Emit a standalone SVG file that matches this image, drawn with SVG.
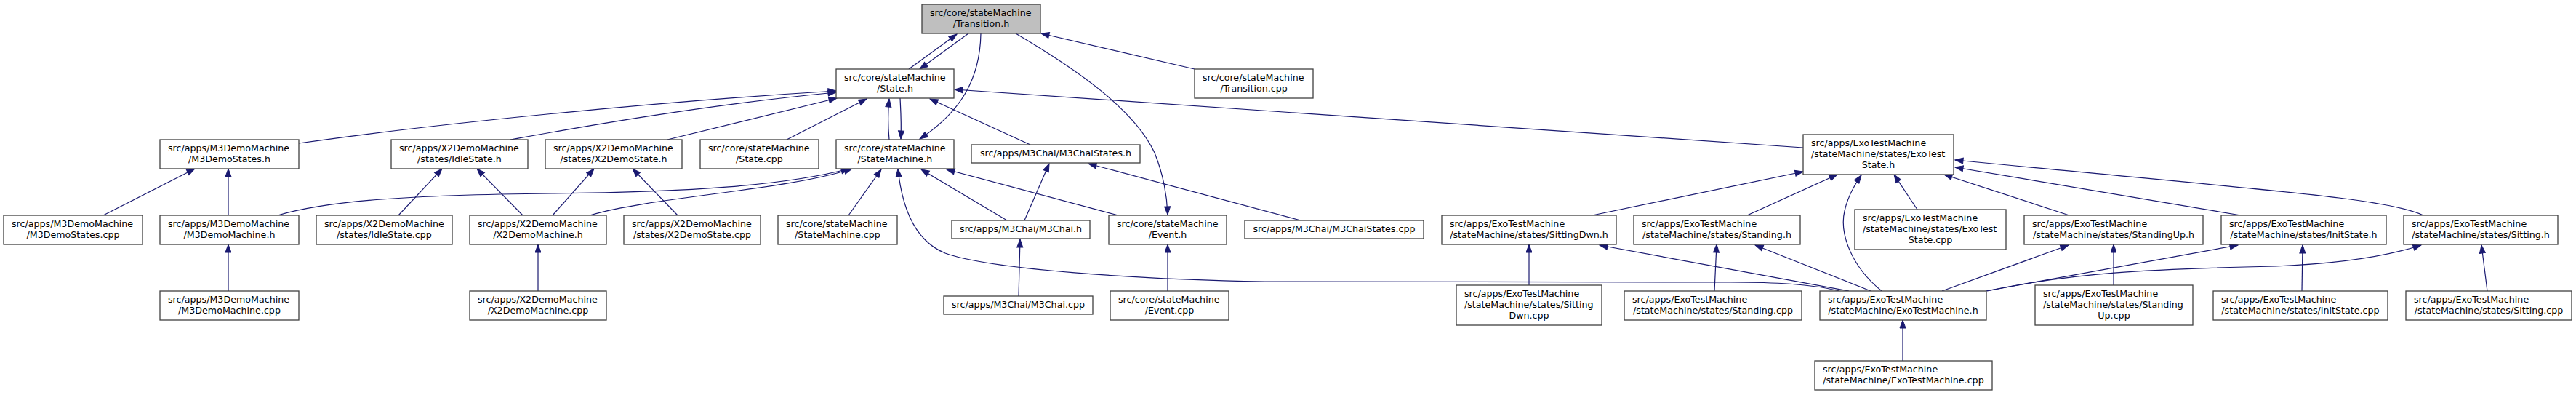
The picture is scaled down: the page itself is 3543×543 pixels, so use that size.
<svg xmlns="http://www.w3.org/2000/svg" width="3543" height="543" viewBox="0 0 3543 543">
<style>
.node rect{fill:#ffffff;stroke:#404040;stroke-width:1.3}
.node rect.root{fill:#bfbfbf}
.node text{font-family:"DejaVu Sans","Liberation Sans",sans-serif;font-size:12.67px;fill:#000000}
.node text.m{text-anchor:middle}
.edges path{fill:none;stroke:#191970;stroke-width:1.2;marker-end:url(#arr)}
</style>
<defs>
<marker id="arr" markerUnits="userSpaceOnUse" viewBox="-12 -5 12 10" refX="0" refY="0" markerWidth="12" markerHeight="10" orient="auto" overflow="visible">
<path d="M0,0 L-11,-4 L-11,4 Z" fill="#191970" stroke="#191970" stroke-width="1"/>
</marker>
</defs>
<rect x="0" y="0" width="3543" height="543" fill="#ffffff"/>
<g class="edges">
<path d="M1250,95 L1316,47"/>
<path d="M1332,46 L1265,95"/>
<path d="M1349,46 C1348,110 1320,155 1265,191"/>
<path d="M1397,46 C1480,95 1560,150 1588,210 C1600,240 1605,265 1606,295"/>
<path d="M1643,95 L1432,46"/>
<path d="M1223,192 C1221,170 1221,155 1223,136"/>
<path d="M1238,135 C1239,155 1240,170 1239,191"/>
<path d="M1417,199 L1279,136"/>
<path d="M2480,203 L1313,123"/>
<path d="M411,197 C600,170 900,140 1150,125"/>
<path d="M702,192 C780,178 960,145 1150,127"/>
<path d="M918,192 L1151,135"/>
<path d="M1082,192 L1192,136"/>
<path d="M142,296 L268,232"/>
<path d="M314,296 L314,232"/>
<path d="M314,400 L314,336"/>
<path d="M548,296 L608,232"/>
<path d="M719,296 L656,232"/>
<path d="M760,296 L817,232"/>
<path d="M932,296 L870,232"/>
<path d="M740,400 L740,336"/>
<path d="M382,296 C450,276 560,268 760,266 C950,264 1080,255 1168,232"/>
<path d="M811,296 C900,270 1080,262 1172,232"/>
<path d="M1167,296 L1212,233"/>
<path d="M2530,400 C2490,390 2440,388 2380,388 L1740,387 C1560,384 1360,370 1300,348 C1255,330 1240,280 1235,232"/>
<path d="M1385,303 L1267,233"/>
<path d="M1538,296 L1302,233"/>
<path d="M1409,303 L1443,225"/>
<path d="M1789,303 L1497,225"/>
<path d="M1401,407 L1403,329"/>
<path d="M1606,400 L1606,336"/>
<path d="M2190,296 L2480,236"/>
<path d="M2403,296 L2527,240"/>
<path d="M2588,400 C2545,365 2530,320 2537,290 C2541,272 2550,255 2560,241"/>
<path d="M2637,288 L2605,240"/>
<path d="M2846,296 L2674,240"/>
<path d="M3082,296 L2689,230"/>
<path d="M3333,296 C3280,272 3140,264 2689,220"/>
<path d="M2103,392 L2103,336"/>
<path d="M2358,400 L2361,336"/>
<path d="M2543,400 L2200,337"/>
<path d="M2573,400 L2414,337"/>
<path d="M2671,400 L2845,337"/>
<path d="M2907,392 L2907,336"/>
<path d="M2731,400 L3078,337"/>
<path d="M3166,400 L3167,337"/>
<path d="M2733,400 C2850,375 2950,370 3130,366 C3230,362 3290,350 3330,337"/>
<path d="M3421,400 L3413,337"/>
<path d="M2617,496 L2617,440"/>
</g>
<g id="n_transition_h" class="node"><rect class="root" x="1268" y="6" width="163" height="40"/><text x="1279" y="22.3">src/core/stateMachine</text><text class="m" x="1349.5" y="37.3">/Transition.h</text></g>
<g id="n_state_h" class="node"><rect x="1150" y="95" width="162" height="40"/><text x="1161" y="111.3">src/core/stateMachine</text><text class="m" x="1231" y="126.3">/State.h</text></g>
<g id="n_transition_cpp" class="node"><rect x="1643" y="95" width="163" height="40"/><text x="1654" y="111.3">src/core/stateMachine</text><text class="m" x="1724.5" y="126.3">/Transition.cpp</text></g>
<g id="n_m3demostates_h" class="node"><rect x="220" y="192" width="191" height="40"/><text x="231" y="208.3">src/apps/M3DemoMachine</text><text class="m" x="315.5" y="223.3">/M3DemoStates.h</text></g>
<g id="n_idlestate_h" class="node"><rect x="538" y="192" width="188" height="40"/><text x="549" y="208.3">src/apps/X2DemoMachine</text><text class="m" x="632" y="223.3">/states/IdleState.h</text></g>
<g id="n_x2demostate_h" class="node"><rect x="750" y="192" width="188" height="40"/><text x="761" y="208.3">src/apps/X2DemoMachine</text><text class="m" x="844" y="223.3">/states/X2DemoState.h</text></g>
<g id="n_state_cpp" class="node"><rect x="963" y="192" width="163" height="40"/><text x="974" y="208.3">src/core/stateMachine</text><text class="m" x="1044.5" y="223.3">/State.cpp</text></g>
<g id="n_statemachine_h" class="node"><rect x="1150" y="192" width="162" height="40"/><text x="1161" y="208.3">src/core/stateMachine</text><text class="m" x="1231" y="223.3">/StateMachine.h</text></g>
<g id="n_m3chaistates_h" class="node"><rect x="1336" y="199" width="232" height="25"/><text class="m" x="1452" y="215.3">src/apps/M3Chai/M3ChaiStates.h</text></g>
<g id="n_exoteststate_h" class="node"><rect x="2480" y="185" width="207" height="55"/><text x="2491" y="201.3">src/apps/ExoTestMachine</text><text x="2491" y="216.3">/stateMachine/states/ExoTest</text><text class="m" x="2583.5" y="231.3">State.h</text></g>
<g id="n_m3demostates_cpp" class="node"><rect x="5" y="296" width="191" height="40"/><text x="16" y="312.3">src/apps/M3DemoMachine</text><text class="m" x="100.5" y="327.3">/M3DemoStates.cpp</text></g>
<g id="n_m3demomachine_h" class="node"><rect x="220" y="296" width="191" height="40"/><text x="231" y="312.3">src/apps/M3DemoMachine</text><text class="m" x="315.5" y="327.3">/M3DemoMachine.h</text></g>
<g id="n_idlestate_cpp" class="node"><rect x="435" y="296" width="187" height="40"/><text x="446" y="312.3">src/apps/X2DemoMachine</text><text class="m" x="528.5" y="327.3">/states/IdleState.cpp</text></g>
<g id="n_x2demomachine_h" class="node"><rect x="646" y="296" width="188" height="40"/><text x="657" y="312.3">src/apps/X2DemoMachine</text><text class="m" x="740" y="327.3">/X2DemoMachine.h</text></g>
<g id="n_x2demostate_cpp" class="node"><rect x="858" y="296" width="188" height="40"/><text x="869" y="312.3">src/apps/X2DemoMachine</text><text class="m" x="952" y="327.3">/states/X2DemoState.cpp</text></g>
<g id="n_statemachine_cpp" class="node"><rect x="1070" y="296" width="164" height="40"/><text x="1081" y="312.3">src/core/stateMachine</text><text class="m" x="1152" y="327.3">/StateMachine.cpp</text></g>
<g id="n_m3chai_h" class="node"><rect x="1309" y="303" width="190" height="25"/><text class="m" x="1404" y="319.3">src/apps/M3Chai/M3Chai.h</text></g>
<g id="n_event_h" class="node"><rect x="1525" y="296" width="162" height="40"/><text x="1536" y="312.3">src/core/stateMachine</text><text class="m" x="1606" y="327.3">/Event.h</text></g>
<g id="n_m3chaistates_cpp" class="node"><rect x="1712" y="303" width="246" height="25"/><text class="m" x="1835" y="319.3">src/apps/M3Chai/M3ChaiStates.cpp</text></g>
<g id="n_sittingdwn_h" class="node"><rect x="1983" y="296" width="240" height="40"/><text x="1994" y="312.3">src/apps/ExoTestMachine</text><text class="m" x="2103" y="327.3">/stateMachine/states/SittingDwn.h</text></g>
<g id="n_standing_h" class="node"><rect x="2247" y="296" width="229" height="40"/><text x="2258" y="312.3">src/apps/ExoTestMachine</text><text class="m" x="2361.5" y="327.3">/stateMachine/states/Standing.h</text></g>
<g id="n_exoteststate_cpp" class="node"><rect x="2551" y="288" width="208" height="55"/><text x="2562" y="304.3">src/apps/ExoTestMachine</text><text x="2562" y="319.3">/stateMachine/states/ExoTest</text><text class="m" x="2655" y="334.3">State.cpp</text></g>
<g id="n_standingup_h" class="node"><rect x="2784" y="296" width="246" height="40"/><text x="2795" y="312.3">src/apps/ExoTestMachine</text><text class="m" x="2907" y="327.3">/stateMachine/states/StandingUp.h</text></g>
<g id="n_initstate_h" class="node"><rect x="3055" y="296" width="227" height="40"/><text x="3066" y="312.3">src/apps/ExoTestMachine</text><text class="m" x="3168.5" y="327.3">/stateMachine/states/InitState.h</text></g>
<g id="n_sitting_h" class="node"><rect x="3306" y="296" width="212" height="40"/><text x="3317" y="312.3">src/apps/ExoTestMachine</text><text class="m" x="3412" y="327.3">/stateMachine/states/Sitting.h</text></g>
<g id="n_m3demomachine_cpp" class="node"><rect x="220" y="400" width="191" height="40"/><text x="231" y="416.3">src/apps/M3DemoMachine</text><text class="m" x="315.5" y="431.3">/M3DemoMachine.cpp</text></g>
<g id="n_x2demomachine_cpp" class="node"><rect x="646" y="400" width="188" height="40"/><text x="657" y="416.3">src/apps/X2DemoMachine</text><text class="m" x="740" y="431.3">/X2DemoMachine.cpp</text></g>
<g id="n_m3chai_cpp" class="node"><rect x="1298" y="407" width="205" height="25"/><text class="m" x="1400.5" y="423.3">src/apps/M3Chai/M3Chai.cpp</text></g>
<g id="n_event_cpp" class="node"><rect x="1527" y="400" width="163" height="40"/><text x="1538" y="416.3">src/core/stateMachine</text><text class="m" x="1608.5" y="431.3">/Event.cpp</text></g>
<g id="n_sittingdwn_cpp" class="node"><rect x="2003" y="392" width="200" height="55"/><text x="2014" y="408.3">src/apps/ExoTestMachine</text><text x="2014" y="423.3">/stateMachine/states/Sitting</text><text class="m" x="2103" y="438.3">Dwn.cpp</text></g>
<g id="n_standing_cpp" class="node"><rect x="2234" y="400" width="244" height="40"/><text x="2245" y="416.3">src/apps/ExoTestMachine</text><text class="m" x="2356" y="431.3">/stateMachine/states/Standing.cpp</text></g>
<g id="n_exotestmachine_h" class="node"><rect x="2503" y="400" width="229" height="40"/><text x="2514" y="416.3">src/apps/ExoTestMachine</text><text class="m" x="2617.5" y="431.3">/stateMachine/ExoTestMachine.h</text></g>
<g id="n_standingup_cpp" class="node"><rect x="2799" y="392" width="217" height="55"/><text x="2810" y="408.3">src/apps/ExoTestMachine</text><text x="2810" y="423.3">/stateMachine/states/Standing</text><text class="m" x="2907.5" y="438.3">Up.cpp</text></g>
<g id="n_initstate_cpp" class="node"><rect x="3044" y="400" width="240" height="40"/><text x="3055" y="416.3">src/apps/ExoTestMachine</text><text class="m" x="3164" y="431.3">/stateMachine/states/InitState.cpp</text></g>
<g id="n_sitting_cpp" class="node"><rect x="3309" y="400" width="228" height="40"/><text x="3320" y="416.3">src/apps/ExoTestMachine</text><text class="m" x="3423" y="431.3">/stateMachine/states/Sitting.cpp</text></g>
<g id="n_exotestmachine_cpp" class="node"><rect x="2496" y="496" width="244" height="40"/><text x="2507" y="512.3">src/apps/ExoTestMachine</text><text class="m" x="2618" y="527.3">/stateMachine/ExoTestMachine.cpp</text></g>
</svg>
